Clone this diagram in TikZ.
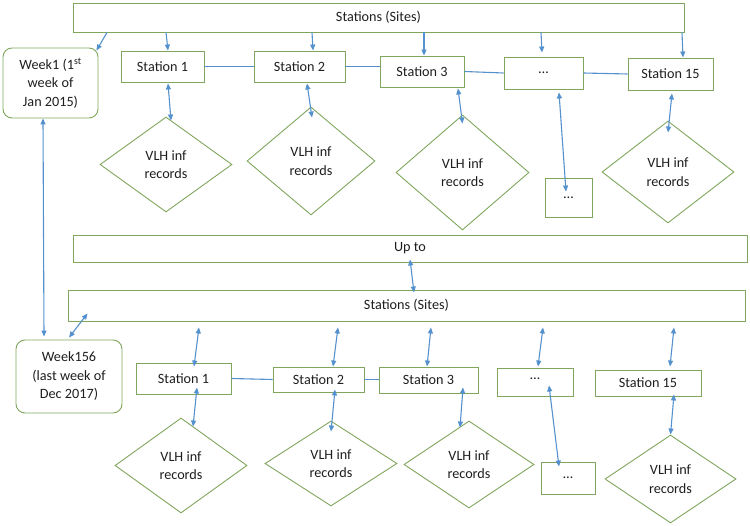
\documentclass[tikz,border=0pt]{standalone}
\usepackage{fontspec}
\setmainfont{Carlito}
\usetikzlibrary{shapes.geometric,arrows.meta,calc}
\definecolor{boxgreen}{RGB}{128,166,94}
\definecolor{arrblue}{RGB}{84,145,205}
\definecolor{txt}{RGB}{30,30,30}
\begin{document}
\begin{tikzpicture}[x=1pt,y=-1pt,
  every node/.style={font=\fontsize{14.2}{18.5}\selectfont,text=txt},
  box/.style={draw=boxgreen,line width=0.9pt,rectangle,inner sep=0pt,align=center},
  weekbox/.style={box,rounded corners=9pt},
  dia/.style={draw=boxgreen,line width=0.9pt,diamond,inner sep=0pt,align=center},
  link/.style={draw=arrblue,line width=1.1pt},
  arr/.style={link,-{Triangle[length=6pt,width=5pt]}},
  darr/.style={link,{Triangle[length=6pt,width=5pt]}-{Triangle[length=6pt,width=5pt]}}]
\useasboundingbox (0,0) rectangle (750,526);

% ---------- top block ----------
\node[box,minimum width=611pt,minimum height=29pt] (title) at (378.5,17.5) {Stations (Sites)};
\node[weekbox,minimum width=95pt,minimum height=70pt] (week1) at (50.5,83) {Week1 (1\textsuperscript{st}\\week of\\Jan 2015)};
\node[box,minimum width=83pt,minimum height=31pt] (st1) at (162.5,66.5) {Station 1};
\node[box,minimum width=91pt,minimum height=31pt] (st2) at (299.5,66.5) {Station 2};
\node[box,minimum width=84pt,minimum height=31pt] (st3) at (422,71.5) {Station 3};
\node[box,minimum width=79pt,minimum height=32pt] (dots1) at (543.5,73) {…};
\node[box,minimum width=85pt,minimum height=32pt] (st15) at (670.5,74) {Station 15};
\node[dia,minimum width=132pt,minimum height=95pt] (d1) at (166,164.5) {VLH inf\\records};
\node[dia,minimum width=128pt,minimum height=108pt] (d2) at (311,161) {VLH inf\\records};
\node[dia,minimum width=133pt,minimum height=115pt] (d3) at (462.5,172.5) {VLH inf\\records};
\node[dia,minimum width=132pt,minimum height=102pt] (d15) at (668,172) {VLH inf\\records};
\node[box,minimum width=47pt,minimum height=39pt] (sd1) at (568.5,197.5) {…};

\draw[arr] (title.south -| 107,0) -- ([shift={(-2,3)}]week1.north east);
\draw[arr] (title.south -| 166,0) -- (st1.north -| 168,0);
\draw[arr] (title.south -| 312,0) -- (st2.north -| 313,0);
\draw[arr] (title.south -| 424,0) -- (st3.north -| 424,0);
\draw[arr] (title.south -| 541,0) -- ($(dots1.north -| 542,0)+(0,-4)$);
\draw[arr] (title.south -| 682,0) -- (st15.north -| 683,0);

\draw[link] (st1.east) -- (st2.west);
\draw[link] (st2.east) -- (st3.west |- st2.east);
\draw[link] (st3.east) -- (dots1.west);
\draw[link] (dots1.east) -- (st15.west);

\draw[darr] ($(st1.south -| 168,0)+(0,1)$) -- ([shift={(5,4)}]d1.north);
\draw[darr] ($(st2.south -| 307,0)+(0,1)$) -- ([shift={(1,11)}]d2.north);
\draw[darr] ($(st3.south -| 458,0)+(0,1)$) -- ([shift={(0,9)}]d3.north);
\draw[darr] ($(dots1.south -| 559,0)+(0,3)$) -- ([shift={(-2.5,14)}]sd1.north);
\draw[darr] ($(st15.south -| 672,0)+(0,3)$) -- ([shift={(0,12)}]d15.north);

% ---------- week link ----------
\node[weekbox,minimum width=106pt,minimum height=73pt] (week156) at (69,376.5) {Week156\\(last week of\\Dec 2017)};
\draw[darr] (week1.south -| 43,0) -- ($(week156.north -| 44,0)+(0,-3)$);

% ---------- bottom block ----------
\node[box,minimum width=674pt,minimum height=27pt] (upto) at (410,248.5) {Up to};
\node[box,minimum width=677pt,minimum height=31pt] (title2) at (406.5,305.5) {Stations (Sites)};
\draw[darr] ($(upto.south -| 410,0)+(0,-3)$) -- ($(title2.north -| 414,0)+(0,3)$);
\draw[darr] ($(week156.north)+(0,-2)$) -- ([shift={(20,-8)}]title2.south west);

\node[box,minimum width=95pt,minimum height=31pt] (b1) at (183.5,378.5) {Station 1};
\node[box,minimum width=91pt,minimum height=25pt] (b2) at (318.5,379.5) {Station 2};
\node[box,minimum width=99pt,minimum height=26pt] (b3) at (428.5,380) {Station 3};
\node[box,minimum width=76pt,minimum height=28pt,text depth=6pt] (bdots) at (535,382) {…};
\node[box,minimum width=106pt,minimum height=26pt] (b15) at (648,383) {Station 15};
\node[dia,minimum width=132pt,minimum height=95pt] (e1) at (181,465.5) {VLH inf\\records};
\node[dia,minimum width=132pt,minimum height=85pt] (e2) at (331,463.5) {VLH inf\\records};
\node[dia,minimum width=130pt,minimum height=87pt] (e3) at (469,464.5) {VLH inf\\records};
\node[dia,minimum width=131pt,minimum height=88pt] (e15) at (670.5,479) {VLH inf\\records};
\node[box,minimum width=54pt,minimum height=32pt] (sd2) at (568,478) {…};

\draw[darr] ($(title2.south -| 199,0)+(0,6)$) -- ($(b1.north -| 194,0)+(0,4)$);
\draw[darr] ($(title2.south -| 338,0)+(0,6)$) -- ($(b2.north -| 333,0)+(0,0)$);
\draw[darr] ($(title2.south -| 431,0)+(0,6)$) -- ($(b3.north -| 427,0)+(0,0)$);
\draw[darr] ($(title2.south -| 543,0)+(0,6)$) -- ($(bdots.north -| 538,0)+(0,-1)$);
\draw[darr] ($(title2.south -| 674,0)+(0,6)$) -- ($(b15.north -| 670,0)+(0,-3)$);

\draw[link] (b1.east) -- (b2.west);
\draw[link] (b2.east) -- (b3.west |- b2.east);

\draw[darr] ($(b1.south -| 197,0)+(0,-7)$) -- ([shift={(12,9)}]e1.north);
\draw[darr] ($(b2.south -| 335,0)+(0,-3)$) -- ([shift={(0,11)}]e2.north);
\draw[darr] ($(b3.south -| 463,0)+(0,-6)$) -- ([shift={(-9,7)}]e3.north);
\draw[darr] ($(bdots.south -| 549,0)+(0,-11)$) -- ([shift={(-9,5)}]sd2.north);
\draw[darr] ($(b15.south -| 674,0)+(0,-2)$) -- (e15.north);
\end{tikzpicture}
\end{document}
